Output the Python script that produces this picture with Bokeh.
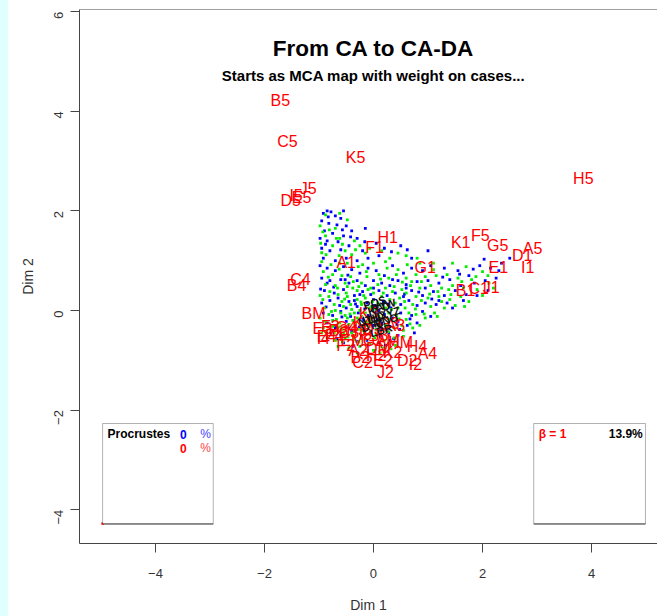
import math
from bokeh.plotting import figure
from bokeh.layouts import row
from bokeh.models import Range1d, FixedTicker, Span, BoxAnnotation, Label, ColumnDataSource, Div
from bokeh.core.properties import value
from bokeh.embed import file_html
from bokeh.resources import INLINE

# ---------------- data ----------------
title_text = "From CA to CA-DA"
subtitle_text = "Starts as MCA map with weight on cases..."
x_ticks = [-4, -2, 0, 2, 4]
y_ticks = [-4, -2, 0, 2, 4, 6]

cat_labels = ["B5", "C5", "K5", "H5", "J5", "I5", "E5", "D5", "H1", "F1", "A1", "K1", "F5", "G5", "A5",
              "D1", "E1", "I1", "G1", "B1", "C1", "J1", "C4", "B4", "BM",
              "E3", "F3", "B3", "G4", "E4", "F4", "I4", "H3", "I3", "K4", "K3", "G3", "A3", "AM", "HM",
              "H4", "A4", "D2", "I2", "J2", "E2", "C2", "DM", "A2", "B2", "F2", "EM", "D3", "C3", "J3",
              "G2", "H2", "K2"]
cat_x = [-1.71, -1.58, -0.33, 3.85, -1.20, -1.42, -1.32, -1.52, 0.26, 0.02, -0.50, 1.60, 1.96, 2.28, 2.92,
         2.73, 2.29, 2.83, 0.95, 1.69, 1.93, 2.16, -1.34, -1.41, -1.10,
         -0.94, -0.79, -0.64, -0.50, -0.86, -0.72, -0.92, -0.31, -0.15, -0.20, -0.09, 0.28, 0.40, 0.26, 0.50,
         0.80, 0.99, 0.62, 0.77, 0.22, 0.17, -0.20, 0.09, -0.28, -0.24, -0.51, -0.39, -0.02, -0.45, 0.12,
         0.00, 0.05, 0.35]
cat_y = [4.22, 3.39, 3.07, 2.65, 2.45, 2.30, 2.27, 2.20, 1.47, 1.27, 0.96, 1.37, 1.51, 1.31, 1.24,
         1.10, 0.86, 0.86, 0.86, 0.40, 0.44, 0.46, 0.62, 0.50, -0.06,
         -0.36, -0.32, -0.40, -0.34, -0.52, -0.50, -0.56, -0.40, -0.48, -0.24, -0.06, -0.26, -0.30, -0.60, -0.64,
         -0.72, -0.86, -1.00, -1.08, -1.24, -1.00, -1.04, -0.76, -0.80, -0.94, -0.70, -0.60, -0.38, -0.45, -0.50,
         -0.60, -0.90, -0.85]

grp_labels = ["KFD", "IHG", "DTC", "LBR", "MNO", "PQS", "RVW", "XYZ", "NTU"]
grp_x = [0.10, 0.05, -0.02, 0.14, 0.22, 0.02, 0.18, 0.30, -0.08]
grp_y = [0.04, -0.12, -0.30, -0.40, -0.20, 0.16, 0.10, -0.05, -0.18]

blue_pts = [(-0.92,1.95),(-0.85,2.0),(-0.78,1.98),(-0.7,1.9),(-0.95,1.8),(-0.82,1.75),(-0.6,1.85),(-0.5,1.7),
            (-0.9,1.6),(-0.75,1.55),(-0.55,1.5),(-0.98,1.45),(-0.85,1.4),(-0.65,1.38),(-0.4,1.6),(-0.3,1.45),
            (-0.95,1.25),(-0.8,1.2),(-0.6,1.22),(-0.45,1.3),(-0.2,1.2),(0.05,1.35),(-0.92,1.05),(-0.7,1.0),
            (-0.5,1.05),(-0.3,1.0),(-0.1,1.05),(0.1,1.1),(0.2,1.25),(0.5,1.3),
            (-0.98,0.9),(-0.85,0.85),(-0.7,0.8),(-0.55,0.88),(-0.4,0.82),(-0.25,0.75),(-0.1,0.85),(0.05,0.8),
            (0.2,0.7),(0.35,0.9),(0.55,0.75),(0.7,0.85),(0.9,0.8),(1.05,0.9),(1.3,0.85),(1.55,0.8),(1.75,0.7),
            (1.95,0.9),(2.15,0.85),(2.35,0.95),(2.5,1.05),(-0.95,0.65),(-0.8,0.6),(-0.6,0.62),(-0.45,0.55),
            (-0.3,0.6),(-0.15,0.5),(0.0,0.6),(0.15,0.55),(0.3,0.5),(0.45,0.6),(0.6,0.52),(0.8,0.58),(1.0,0.6),
            (1.2,0.55),(1.4,0.62),(1.6,0.5),(1.85,0.55),(2.05,0.6),(2.25,0.65),(-0.9,0.4),(-0.72,0.35),
            (-0.55,0.42),(-0.35,0.3),(-0.2,0.38),(-0.05,0.32),(0.1,0.4),(0.25,0.3),(0.4,0.35),(0.55,0.28),
            (0.7,0.4),(0.9,0.3),(1.1,0.38),(1.3,0.3),(1.5,0.4),(1.7,0.32),(-0.95,0.15),(-0.8,0.2),(-0.62,0.1),
            (-0.45,0.18),(-0.3,0.08),(-0.12,0.15),(0.02,0.1),(0.18,0.18),(0.32,0.05),(0.5,0.12),(0.65,0.2),
            (0.8,0.1),(0.95,0.15),(1.15,0.12),(1.35,0.15),
            (-0.92,-0.05),(-0.75,-0.1),(-0.6,-0.02),(-0.42,-0.12),(-0.28,-0.05),(-0.1,-0.1),(0.05,-0.02),
            (0.2,-0.08),(0.35,-0.15),(0.5,-0.05),(0.7,-0.1),(0.9,-0.02),(1.05,-0.12),(-0.85,-0.25),(-0.68,-0.3),
            (-0.5,-0.22),(-0.33,-0.28),(-0.18,-0.2),(0.0,-0.3),(0.15,-0.25),(0.3,-0.32),(0.45,-0.22),(0.62,-0.3),
            (0.8,-0.25),(-0.78,-0.45),(-0.6,-0.5),(-0.4,-0.42),(-0.22,-0.5),(-0.05,-0.45),(0.12,-0.52),
            (0.28,-0.45),(0.45,-0.5),(-0.55,-0.65),(-0.3,-0.62),(-0.1,-0.7),(0.1,-0.65),(0.3,-0.6),
            (-0.5,0.05),(-0.2,-0.15),(0.1,0.0),(-0.35,0.2),(0.0,0.22),(-0.65,0.25),(0.25,-0.4),(-0.45,-0.35),
            (-0.85,0.55),(-0.7,-0.35),(-0.52,0.62),(-0.38,-0.72),(-0.25,0.32),(-0.12,-0.6),(0.0,0.45),
            (0.22,-0.7),(0.35,0.62),(0.48,-0.38),(0.6,0.45),(0.75,-0.45),(0.95,0.45),(1.2,0.2),(1.45,0.05),
            (1.65,0.2),(1.9,0.3),(2.1,0.4),(2.3,0.8),(1.0,1.2),(0.7,1.05),(-0.15,1.65),(-0.55,2.0),
            (-0.83,1.88),(-0.67,1.72),(-0.88,1.33),(-0.57,1.62),(-0.42,1.48),(-0.16,1.38),(0.33,1.18),
            (0.62,1.22),(-0.73,0.47),(-0.47,0.71),(-0.33,0.13),(-0.58,-0.13),(-0.16,0.03),(0.07,-0.17),
            (0.27,0.13),(0.43,-0.28),(0.57,0.33),(0.83,0.37),(1.07,0.23),(1.27,0.67),(1.58,0.73),(1.83,0.83),
            (2.03,1.03),(0.13,-0.37),(-0.26,-0.33),(-0.67,-0.57),(-0.87,0.07),(-0.97,0.43),(0.37,-0.57),
            (0.67,-0.17)]

green_pts = [(-0.88,1.92),(-0.62,1.95),(-0.98,1.7),(-0.7,1.65),(-0.48,1.82),(-0.88,1.5),(-0.62,1.45),
             (-0.35,1.4),(-0.97,1.35),(-0.75,1.3),(-0.52,1.2),(-0.25,1.3),(-0.87,1.12),(-0.63,1.1),(-0.4,1.12),
             (-0.15,1.15),(0.15,1.2),(0.3,1.05),(0.45,1.15),(0.8,1.05),
             (-0.95,0.98),(-0.78,0.92),(-0.62,0.95),(-0.48,0.95),(-0.2,0.92),(0.0,0.95),(0.25,0.85),(0.45,0.82),
             (0.62,0.92),(0.85,0.95),(1.1,0.82),(1.45,0.95),(1.7,0.88),(2.0,0.78),(-0.92,0.78),(-0.75,0.72),
             (-0.58,0.7),(-0.42,0.68),(-0.28,0.88),(-0.12,0.68),(0.1,0.72),(0.28,0.65),(0.42,0.72),(0.6,0.65),
             (0.78,0.72),(0.95,0.68),(1.15,0.7),(1.35,0.72),(1.55,0.65),(1.8,0.62),(2.1,0.7),(-0.88,0.52),
             (-0.7,0.5),(-0.52,0.55),(-0.38,0.45),(-0.22,0.55),(-0.05,0.45),(0.08,0.52),(0.22,0.45),(0.38,0.48),
             (0.52,0.42),(0.68,0.5),(0.85,0.45),(1.05,0.5),(1.25,0.45),(1.45,0.5),(1.65,0.45),(1.9,0.42),
             (-0.98,0.3),(-0.82,0.28),(-0.65,0.32),(-0.48,0.28),(-0.3,0.4),(-0.15,0.25),(0.0,0.35),(0.15,0.28),
             (0.3,0.22),(0.48,0.25),(0.6,0.35),(0.78,0.28),(1.0,0.25),(1.2,0.28),(1.4,0.22),(1.6,0.28),
             (-0.9,0.05),(-0.72,0.12),(-0.55,0.08),(-0.4,0.02),(-0.22,0.12),(-0.08,0.05),(0.08,0.15),(0.22,0.05),
             (0.4,0.15),(0.58,0.05),(0.72,0.12),(0.88,0.2),(1.05,0.08),(1.25,0.18),
             (-0.98,-0.15),(-0.82,-0.08),(-0.68,-0.18),(-0.52,-0.1),(-0.38,-0.2),(-0.22,-0.12),(-0.05,-0.18),
             (0.1,-0.12),(0.28,-0.05),(0.42,-0.1),(0.6,-0.18),(0.78,-0.08),(0.95,-0.15),(-0.92,-0.35),
             (-0.75,-0.32),(-0.58,-0.38),(-0.45,-0.28),(-0.28,-0.38),(-0.12,-0.3),(0.05,-0.38),(0.22,-0.3),
             (0.38,-0.35),(0.55,-0.4),(0.72,-0.35),(-0.85,-0.55),(-0.7,-0.6),(-0.52,-0.55),(-0.35,-0.5),
             (-0.15,-0.58),(0.02,-0.55),(0.2,-0.6),(0.38,-0.55),(0.55,-0.52),(-0.65,-0.72),(-0.45,-0.75),
             (-0.25,-0.72),(0.0,-0.8),(0.2,-0.75),
             (-0.6,-0.05),(-0.48,-0.15),(-0.35,-0.05),(-0.25,0.0),(-0.15,-0.05),(-0.7,0.0),(-0.58,0.18),
             (-0.42,0.12),(-0.3,0.22),(-0.18,0.3),(-0.02,0.18),(-0.62,-0.25),(-0.4,-0.45),(-0.2,-0.4),
             (-0.05,-0.25),(0.12,-0.2),(-0.75,-0.2),(-0.3,-0.15),(0.05,0.02),(-0.5,0.35),
             (-0.88,-0.22),(-0.8,0.38),(-0.66,0.45),(-0.55,-0.45),(-0.48,0.48),(-0.36,-0.58),(-0.27,0.48),
             (-0.1,0.42),(0.05,-0.48),(0.18,0.35),(0.3,-0.18),(0.35,0.38),(0.45,0.05),(0.52,-0.3),(0.65,-0.05),
             (0.7,0.58),(0.85,-0.3),(1.12,-0.05),(1.3,0.05),(1.5,0.1),(1.75,0.18),(2.0,0.3),(2.2,0.45),
             (1.1,0.95),(0.6,1.1),(-0.95,-0.45),(-0.72,-0.45),(-0.3,-0.85),(0.12,-0.85),(0.4,-0.7),
             (-0.93,1.58),(-0.81,1.62),(-0.68,1.45),(-0.95,1.16),(-0.57,1.33),(-0.33,1.22),(-0.07,1.25),
             (0.22,0.98),(-0.83,0.67),(-0.63,0.83),(-0.37,0.58),(-0.13,0.78),(0.13,0.63),(0.53,0.57),
             (0.88,0.58),(1.18,0.38),(1.38,0.42),(1.62,0.58),(1.88,0.68),(2.12,0.55),(-0.93,0.22),
             (-0.77,-0.02),(-0.63,-0.33),(-0.53,0.23),(-0.43,-0.07),(-0.33,-0.25),(-0.23,0.17),(-0.13,-0.23),
             (-0.03,0.08),(0.07,-0.28),(0.17,0.12),(0.27,-0.43),(0.33,0.02),(0.47,-0.17),(0.57,0.18),
             (0.67,-0.27),(0.77,0.03),(0.93,-0.07),(1.03,0.33),(1.17,-0.12),(1.42,0.32),(1.67,0.08),
             (-0.87,-0.42),(-0.57,-0.63),(-0.27,-0.63),(-0.07,-0.67),(0.13,-0.72),(0.32,-0.77),(-0.47,-0.53),
             (-0.17,-0.47)]

inset_left_texts = ["Procrustes", "0", "%", "0", "%"]
inset_right_texts = ["\u03b2 = 1", "13.9%"]

# ---------------- figure ----------------
FONT = "Liberation Sans"
X0, X1 = -5.394, 5.211
Y0, Y1 = -4.68, 6.045

p = figure(width=649, height=616, x_range=Range1d(X0, X1), y_range=Range1d(Y0, Y1),
           output_backend="svg", toolbar_location=None,
           min_border_left=71, min_border_bottom=73, min_border_top=9, min_border_right=0, margin=0)
p.outline_line_color = None
p.grid.visible = False
p.background_fill_color = "white"
p.border_fill_color = "white"

for ax in (p.xaxis[0], p.yaxis[0]):
    ax.axis_line_color = "#444444"
    ax.major_tick_line_color = "#444444"
    ax.major_tick_out = 9
    ax.major_tick_in = 0
    ax.minor_tick_line_color = None
    ax.major_label_text_font = FONT
    ax.major_label_text_font_size = "13px"
    ax.major_label_text_color = "#333333"
    ax.axis_label_text_font = FONT
    ax.axis_label_text_font_size = "14px"
    ax.axis_label_text_font_style = "normal"
    ax.axis_label_text_color = "#333333"
p.xaxis.ticker = FixedTicker(ticks=x_ticks)
p.yaxis.ticker = FixedTicker(ticks=y_ticks)
p.xaxis.axis_label = "Dim 1"
p.yaxis.axis_label = "Dim 2"
p.xaxis.major_label_standoff = 16
p.xaxis.axis_label_standoff = 16
p.yaxis.major_label_orientation = math.pi / 2
p.yaxis.major_label_standoff = 12
p.yaxis.axis_label_standoff = 11

p.add_layout(Span(location=Y1, dimension="width", line_color="#444444", line_width=1))

# points
p.scatter([a for a, b in blue_pts], [b for a, b in blue_pts], marker="square", size=2.8,
          fill_color="blue", line_color=None)
p.scatter([a for a, b in green_pts], [b for a, b in green_pts], marker="square", size=2.8,
          fill_color="#00ee00", line_color=None)

# labels
cat_src = ColumnDataSource(dict(x=cat_x, y=cat_y, t=cat_labels))
p.text(x="x", y="y", text="t", source=cat_src, text_color="red", text_font=value(FONT),
       text_font_size="16px", text_align="center", text_baseline="middle")
grp_src = ColumnDataSource(dict(x=grp_x, y=grp_y, t=grp_labels))
p.text(x="x", y="y", text="t", source=grp_src, text_color="#111111", text_font=value(FONT),
       text_font_size="11px", text_font_style="bold", text_align="center", text_baseline="middle",
       angle=0.3)

# title
p.add_layout(Label(x=0, y=5.26, text=title_text, text_font=FONT, text_font_size="22.5px",
                   text_font_style="bold", text_align="center", text_baseline="middle", text_color="black"))
p.add_layout(Label(x=0, y=4.72, text=subtitle_text, text_font=FONT, text_font_size="15px",
                   text_font_style="bold", text_align="center", text_baseline="middle", text_color="black"))

# inset boxes
for l, r in ((-4.97, -2.94), (2.94, 4.99)):
    p.add_layout(BoxAnnotation(left=l, right=r, bottom=-4.28, top=-2.27, fill_color="white",
                               fill_alpha=1.0, line_color="black", line_width=1))
    p.segment(x0=[l], y0=[-4.285], x1=[r], y1=[-4.285], line_color="#777777", line_width=2)
p.scatter([-4.97], [-4.28], marker="square", size=2.5, fill_color="red", line_color=None)

lab_kw = dict(text_font=FONT, text_font_size="12px", text_font_style="bold", text_baseline="middle")
p.add_layout(Label(x=-4.88, y=-2.49, text=inset_left_texts[0], text_color="black", **lab_kw))
p.add_layout(Label(x=-3.49, y=-2.49, text=inset_left_texts[1], text_color="blue", text_align="center", **lab_kw))
p.add_layout(Label(x=-3.08, y=-2.49, text=inset_left_texts[2], text_color="#4444ff", text_align="center",
                   text_font=FONT, text_font_size="12px", text_baseline="middle"))
p.add_layout(Label(x=-3.49, y=-2.77, text=inset_left_texts[3], text_color="red", text_align="center", **lab_kw))
p.add_layout(Label(x=-3.08, y=-2.77, text=inset_left_texts[4], text_color="#ff4444", text_align="center",
                   text_font=FONT, text_font_size="12px", text_baseline="middle"))
p.add_layout(Label(x=3.03, y=-2.49, text=inset_right_texts[0], text_color="red", **lab_kw))
p.add_layout(Label(x=4.94, y=-2.49, text=inset_right_texts[1], text_color="black", text_align="right", **lab_kw))

strip = Div(text="", width=8, height=616, margin=0, styles={"background-color": "#e0ffff"})
layout = row(strip, p, spacing=0)

open("out.html", "w").write(file_html(layout, INLINE))
